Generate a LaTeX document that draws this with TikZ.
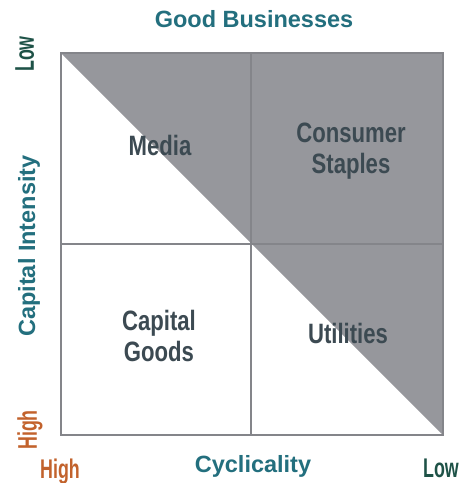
\documentclass[tikz,border=0pt]{standalone}
\usepackage{fontspec}
\setmainfont{Liberation Sans}
\newfontfamily\condfont[FakeStretch=0.79]{Liberation Sans}
\newfontfamily\narrowfont[FakeStretch=0.66]{Liberation Sans}
\begin{document}
\begin{tikzpicture}[x=1pt,y=-1pt,
  quadlbl/.style={font=\condfont\bfseries\fontsize{28}{28}\selectfont, text=qtext, anchor=base, inner sep=0pt},
  axistitle/.style={font=\bfseries\fontsize{23.5}{23.5}\selectfont, text=teal1, anchor=base, inner sep=0pt},
  endlow/.style={font=\narrowfont\bfseries\fontsize{27}{27}\selectfont, text=darkgreen, anchor=base, inner sep=0pt},
  endhigh/.style={font=\narrowfont\bfseries\fontsize{27}{27}\selectfont, text=orng, anchor=base, inner sep=0pt},
  gridline/.style={draw=lineg, line width=1.2pt}]
\definecolor{fillg}{HTML}{96979C}
\definecolor{lineg}{HTML}{84858A}
\definecolor{qtext}{HTML}{3C4A52}
\definecolor{teal1}{HTML}{236F7E}
\definecolor{darkgreen}{HTML}{1E5247}
\definecolor{orng}{HTML}{C2622C}
\useasboundingbox (0,0) rectangle (465,483);
\fill[white] (0,0) rectangle (465,483);
\coordinate (tl) at (61,53);
\coordinate (tr) at (443,53);
\coordinate (bl) at (61,435);
\coordinate (br) at (443,435);
\coordinate (tm) at (251,53);
\coordinate (bm) at (251,435);
\coordinate (lm) at (61,244);
\coordinate (rm) at (443,244);
\fill[fillg] (tl) -- (tr) -- (br) -- cycle;
\draw[gridline] (tl) rectangle (br);
\draw[gridline] (tm) -- (bm);
\draw[gridline] (lm) -- (rm);
\node[quadlbl] (media) at (160,155) {Media};
\node[quadlbl] (staplesA) at (351,142) {Consumer};
\node[quadlbl] (staplesB) at (351,173) {Staples};
\node[quadlbl] (capgoodsA) at (159,330) {Capital};
\node[quadlbl] (capgoodsB) at (159,361) {Goods};
\node[quadlbl] (util) at (348,343) {Utilities};
\node[axistitle] (good) at (254,27) {Good Businesses};
\node[axistitle] (cyc) at (253,472) {Cyclicality};
\node[axistitle, rotate=90] (capint) at (35,246) {Capital Intensity};
\node[endlow, rotate=90] (lowy) at (34,54) {Low};
\node[endhigh, rotate=90] (highy) at (37,430) {High};
\node[endhigh] (highx) at (60,478) {High};
\node[endlow] (lowx) at (441,477) {Low};
\end{tikzpicture}
\end{document}
